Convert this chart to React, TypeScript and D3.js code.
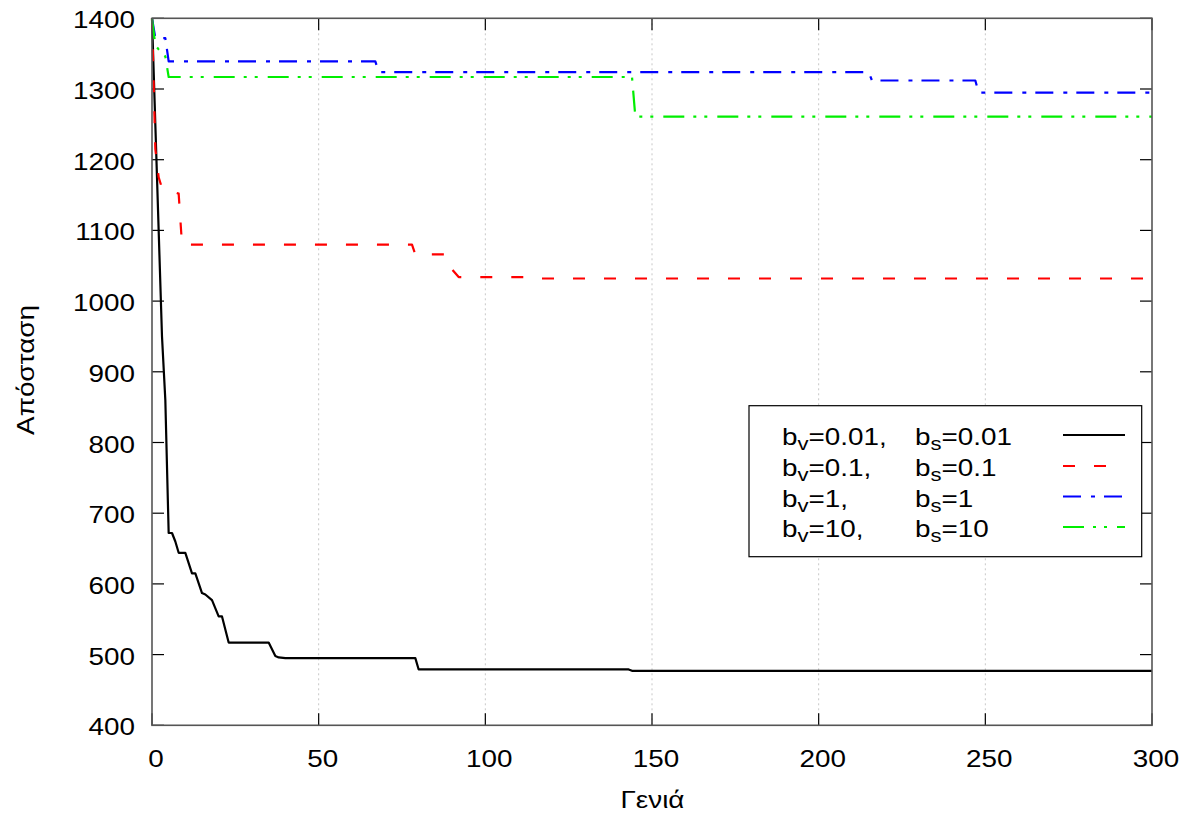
import React from 'react';
import * as d3 from 'd3';

// Generation / distance breakpoints for each run
const genBlack = [0, 1, 2, 3, 4, 5, 6, 7, 8, 10, 12, 13, 15, 16, 18, 20, 21, 23, 35, 37, 38, 40, 79, 80, 143, 144, 300];
const valBlack = [1400, 1250, 1100, 950, 860, 672, 672, 660, 644, 644, 615, 615, 587, 585, 577, 554, 554, 517, 517, 498, 496, 495, 495, 479, 479, 477, 477];

const genRed = [0, 1, 2, 3, 8, 9, 78, 79, 88, 89, 90, 92, 113, 114, 300];
const valRed = [1400, 1215, 1175, 1160, 1152, 1080, 1080, 1066, 1066, 1050, 1045, 1034, 1034, 1032, 1032];

const genBlue = [0, 1, 4, 5, 67, 68, 215, 216, 247, 248, 300];
const valBlue = [1400, 1372, 1372, 1339, 1339, 1324, 1324, 1312, 1312, 1295, 1295];

const genGreen = [0, 1, 2, 4, 5, 144, 145, 300];
const valGreen = [1400, 1362, 1356, 1346, 1317, 1317, 1261, 1261];

const xTicks = [0, 50, 100, 150, 200, 250, 300];
const yTicks = [400, 500, 600, 700, 800, 900, 1000, 1100, 1200, 1300, 1400];

const legendV = ['0.01,', '0.1,', '1,', '10,'];
const legendS = ['0.01', '0.1', '1', '10'];

const xLabel = 'Γενιά';
const yLabel = 'Απόσταση';

const series = [
  { gens: genBlack, vals: valBlack, color: '#000000', dash: 'none' },
  { gens: genRed, vals: valRed, color: '#ff0000', dash: '12,19' },
  { gens: genBlue, vals: valBlue, color: '#0000ff', dash: '18,10,4,9' },
  { gens: genGreen, vals: valGreen, color: '#00ee00', dash: '21,9,3,8,3,10' },
];

const SX = 1.16;

export default function App() {
  const W = 1192, H = 816;
  const left = 152, right = 1152, top = 18.3, bottom = 725.3;
  const x = d3.scaleLinear().domain([0, 300]).range([left, right]);
  const y = d3.scaleLinear().domain([400, 1400]).range([bottom, top]);
  const font = '"Liberation Sans", Arial, sans-serif';
  const tickLen = 12;

  const line = d3.line<[number, number]>().x(d => x(d[0])).y(d => y(d[1]));

  const legX = 749, legY = 405.7, legW = 392.7, legH = 151;
  const rowBase = [445, 476, 506.5, 537];
  const sampleY = [435, 466, 496.5, 527];

  return (
    <svg width={W} height={H} style={{ position: 'absolute', left: 0, top: 0, background: '#fff' }} fontFamily={font}>
      <rect x={0} y={0} width={W} height={H} fill="#fff" />
      {/* vertical grid */}
      {xTicks.filter(t => t > 0 && t < 300).map(t => (
        <line key={'g' + t} x1={x(t)} x2={x(t)} y1={top} y2={bottom} stroke="#c8c8c8" strokeWidth={1} strokeDasharray="2,3" />
      ))}
      {/* ticks */}
      {yTicks.map(t => (
        <g key={'yt' + t}>
          <line x1={left} x2={left + tickLen} y1={y(t)} y2={y(t)} stroke="#000" strokeWidth={1.2} />
          <line x1={right} x2={right - tickLen} y1={y(t)} y2={y(t)} stroke="#000" strokeWidth={1.2} />
          <text transform={`translate(${left - 17},${y(t) + 10}) scale(${SX},1)`} fontSize={24} textAnchor="end" fill="#000">{t}</text>
        </g>
      ))}
      {xTicks.map(t => (
        <g key={'xt' + t}>
          <line x1={x(t)} x2={x(t)} y1={bottom} y2={bottom - tickLen} stroke="#000" strokeWidth={1.2} />
          <line x1={x(t)} x2={x(t)} y1={top} y2={top + tickLen} stroke="#000" strokeWidth={1.2} />
          <text transform={`translate(${x(t) + 4},${766.5}) scale(${SX},1)`} fontSize={24} textAnchor="middle" fill="#000">{t}</text>
        </g>
      ))}
      {/* series */}
      {series.map((s, i) => (
        <path key={'s' + i}
          d={line(s.gens.map((g, j) => [g, s.vals[j]] as [number, number])) || ''}
          fill="none" stroke={s.color} strokeWidth={2.2} strokeDasharray={s.dash} strokeLinejoin="round" />
      ))}
      {/* frame */}
      <rect x={left} y={top} width={right - left} height={bottom - top} fill="none" stroke="#555" strokeWidth={1.6} />
      {/* legend */}
      <rect x={legX} y={legY} width={legW} height={legH} fill="#fff" stroke="#000" strokeWidth={1.2} />
      {series.map((s, i) => (
        <g key={'l' + i}>
          <text transform={`translate(782,${rowBase[i]}) scale(${SX},1)`} fontSize={24} fill="#000">
            b<tspan fontSize={19} dy={5}>v</tspan><tspan dy={-5}>={legendV[i]}</tspan>
          </text>
          <text transform={`translate(915,${rowBase[i]}) scale(${SX},1)`} fontSize={24} fill="#000">
            b<tspan fontSize={19} dy={5}>s</tspan><tspan dy={-5}>={legendS[i]}</tspan>
          </text>
          <line x1={1063} x2={1125} y1={sampleY[i]} y2={sampleY[i]} stroke={s.color} strokeWidth={2.2} strokeDasharray={s.dash} />
        </g>
      ))}
      {/* axis titles */}
      <text transform={`translate(652.5,808) scale(${SX},1)`} fontSize={24} textAnchor="middle" fill="#000">{xLabel}</text>
      <text transform={`translate(33.5,370) rotate(-90) scale(${SX},1)`} fontSize={24} textAnchor="middle" fill="#000">{yLabel}</text>
    </svg>
  );
}
